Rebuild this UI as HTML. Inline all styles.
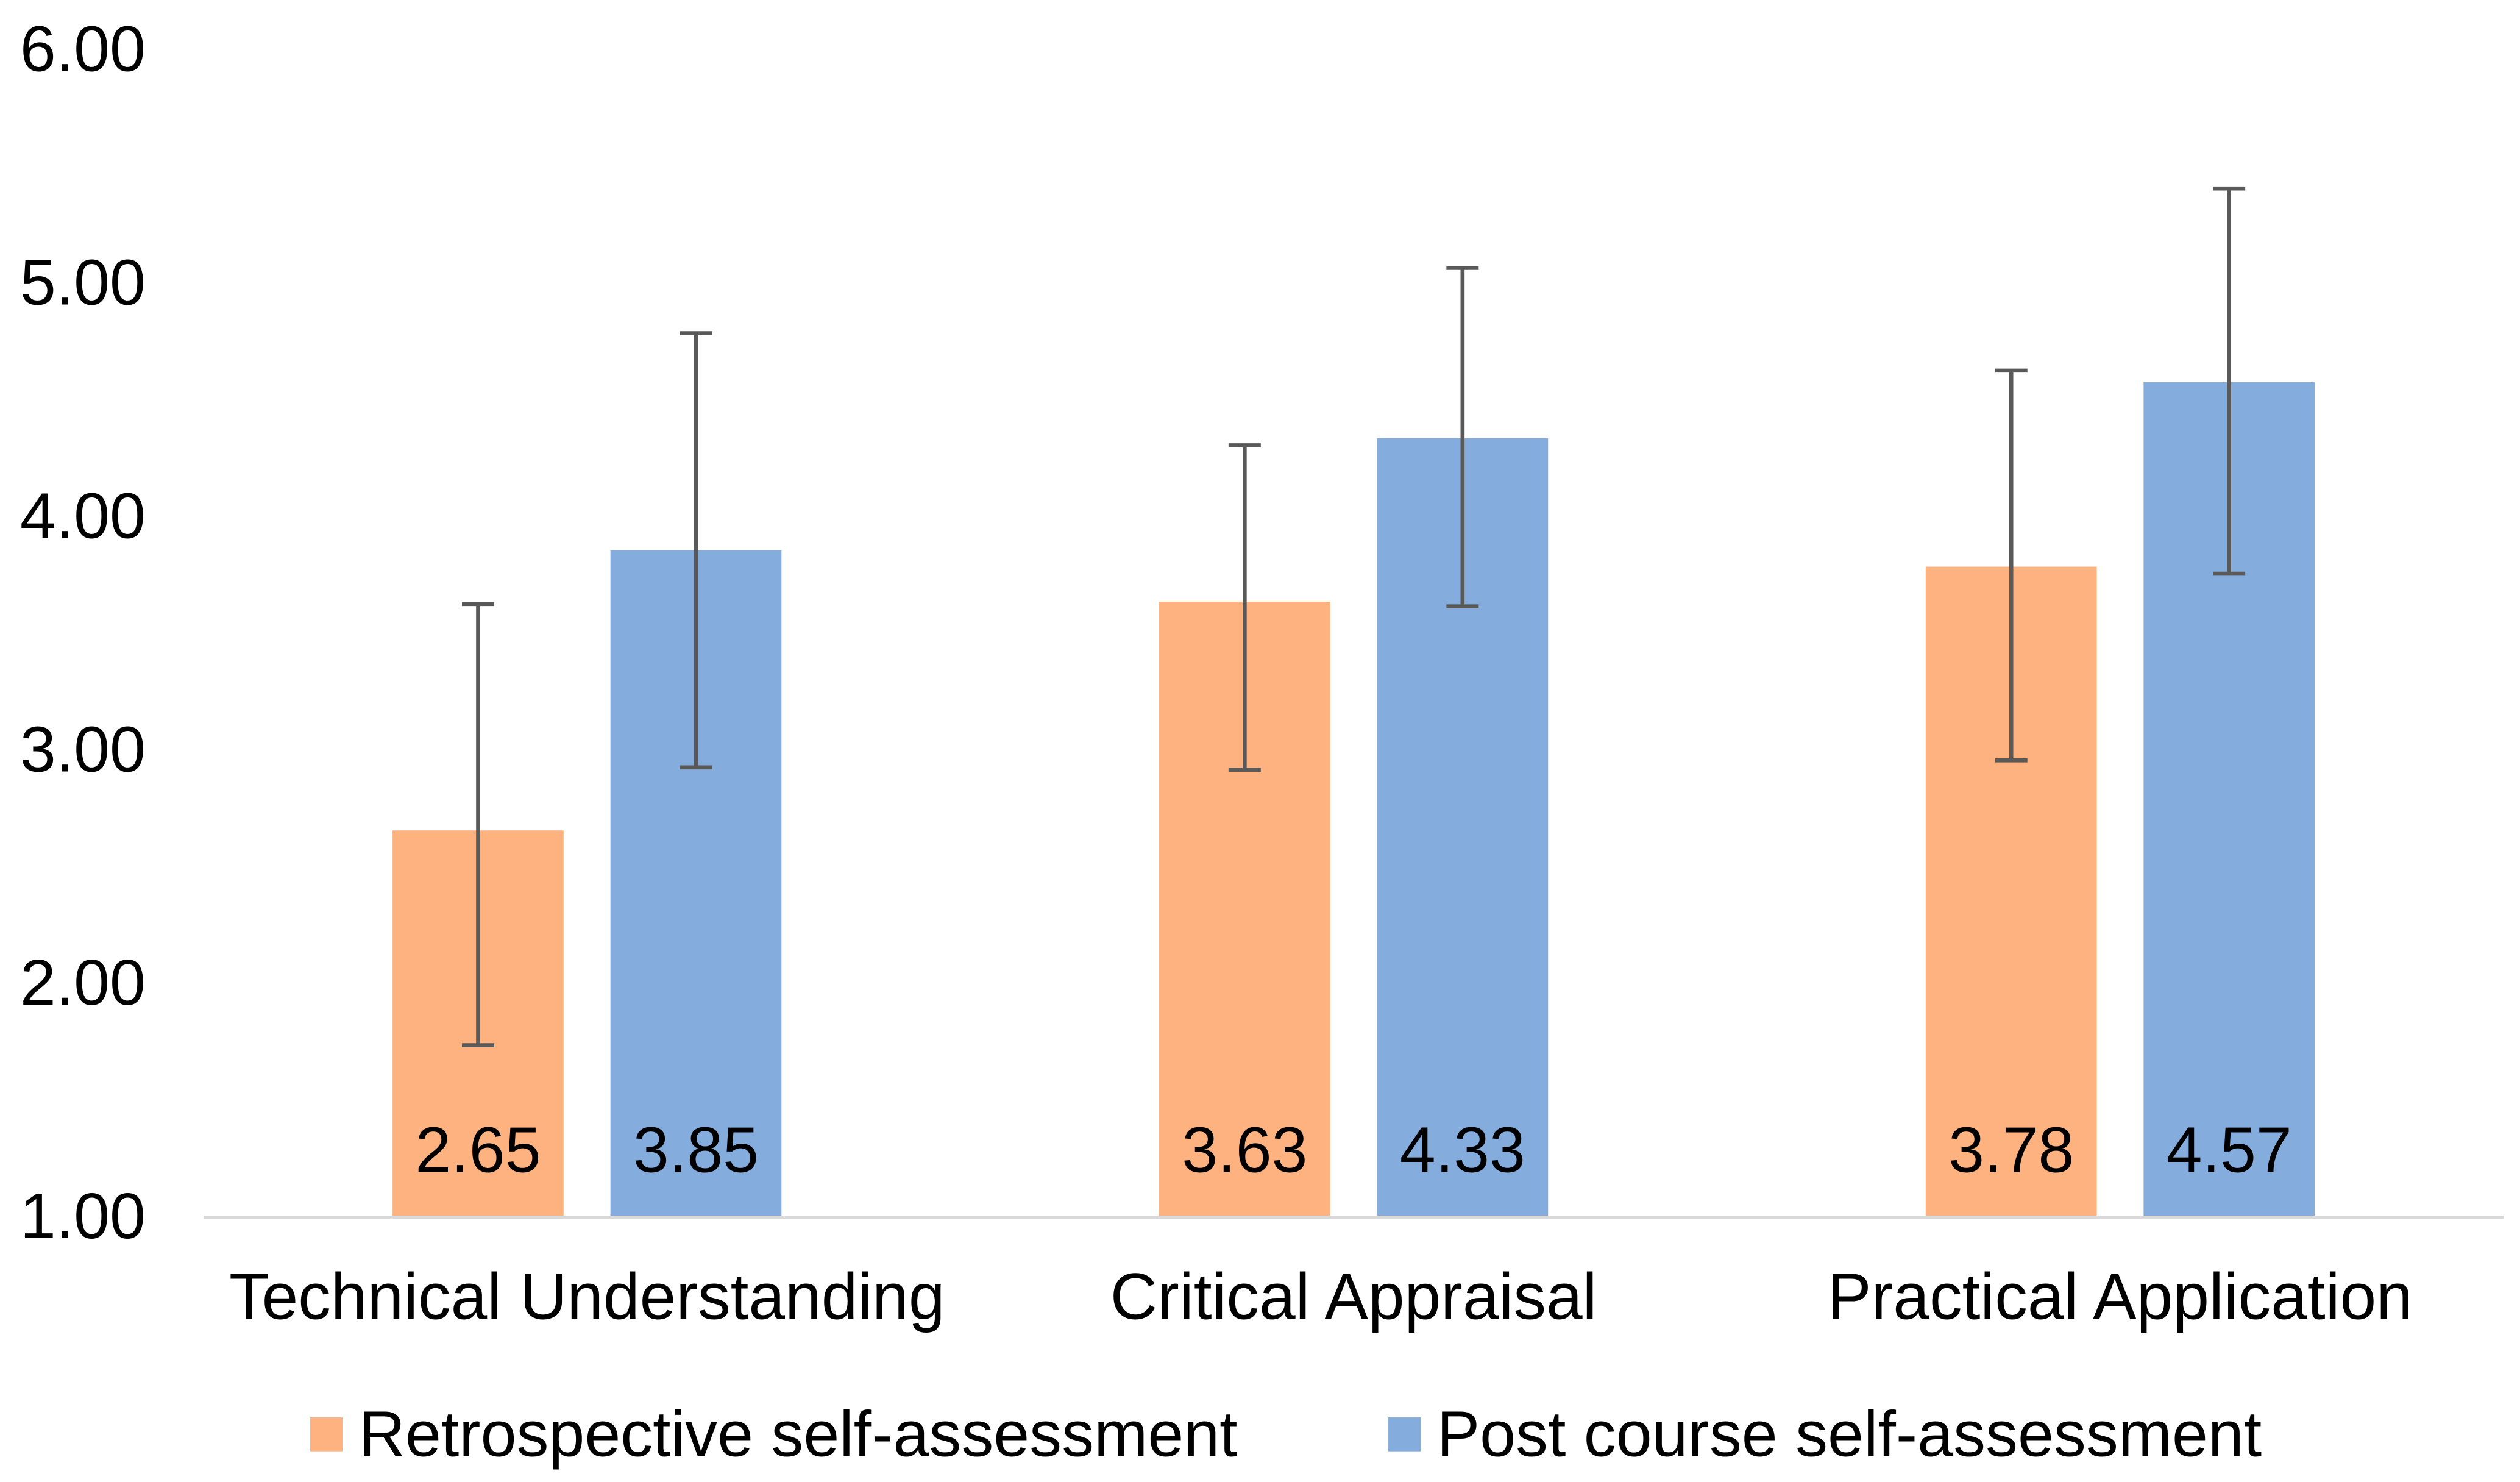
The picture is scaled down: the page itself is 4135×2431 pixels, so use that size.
<!DOCTYPE html>
<html><head><meta charset="utf-8"><style>
html,body{margin:0;padding:0;background:#fff;}
svg{display:block;font-family:"Liberation Sans",Arial,sans-serif;}
</style></head><body>
<svg id="chart" width="4135" height="2431" viewBox="0 0 1561 918" xmlns="http://www.w3.org/2000/svg"></svg>
<script>
const categories = ["Technical Understanding", "Critical Appraisal", "Practical Application"];
const retroValues = [2.65, 3.63, 3.78];
const postValues = [3.85, 4.33, 4.57];
const retroErrLow = [1.73, 2.91, 2.95];
const retroErrHigh = [3.62, 4.30, 4.62];
const postErrLow = [2.92, 3.61, 3.75];
const postErrHigh = [4.78, 5.06, 5.40];
const yTicks = [1, 2, 3, 4, 5, 6];
const seriesNames = ["Retrospective self-assessment", "Post course self-assessment"];

const NS = "http://www.w3.org/2000/svg";
const svg = document.getElementById("chart");
const plotL = 126, plotR = 1551, yMin = 1, yMax = 6, yBase = 753, yTop = 30;
function yScale(v){ return yBase - (v - yMin) / (yMax - yMin) * (yBase - yTop); }
const catW = 475;
function xCenter(i){ return 363.5 + catW * i; }
const barW = 106, offset = 67.5;
function mk(tag, attrs){ const e = document.createElementNS(NS, tag); for (const k in attrs) e.setAttribute(k, attrs[k]); svg.appendChild(e); return e; }

yTicks.forEach(t => {
  const e = mk("text", {x: 90, y: yScale(t) + 14, "text-anchor": "end", "font-size": 40, fill: "#000"});
  e.textContent = t.toFixed(2);
  
  
});

const series = [
  {vals: retroValues, lo: retroErrLow, hi: retroErrHigh, color: "#fdb27f", dx: -offset, name: "retro"},
  {vals: postValues, lo: postErrLow, hi: postErrHigh, color: "#84acdd", dx: offset, name: "post"}
];
series.forEach(s => {
  categories.forEach((c, i) => {
    const cx = xCenter(i) + s.dx;
    const r = mk("rect", {x: cx - barW/2, y: yScale(s.vals[i]), width: barW, height: yBase - yScale(s.vals[i]), fill: s.color});
    
    
  });
});
const axis = mk("line", {x1: plotL, x2: plotR, y1: yBase + 1, y2: yBase + 1, stroke: "#d9d9d9", "stroke-width": 2});



series.forEach(s => {
  categories.forEach((c, i) => {
    const cx = xCenter(i) + s.dx;
    const g = document.createElementNS(NS, "g"); svg.appendChild(g);
    
    
    const yl = yScale(s.lo[i]), yh = yScale(s.hi[i]);
    [[cx, yl, cx, yh], [cx-10, yl, cx+10, yl], [cx-10, yh, cx+10, yh]].forEach(p => {
      const l = document.createElementNS(NS, "line");
      l.setAttribute("x1", p[0]); l.setAttribute("y1", p[1]); l.setAttribute("x2", p[2]); l.setAttribute("y2", p[3]);
      l.setAttribute("stroke", "#595959"); l.setAttribute("stroke-width", 2.5);
      g.appendChild(l);
    });
    const t = mk("text", {x: cx, y: 726, "text-anchor": "middle", "font-size": 40, fill: "#000"});
    t.textContent = s.vals[i].toFixed(2);
    
    
  });
});

categories.forEach((c, i) => {
  const t = mk("text", {x: xCenter(i), y: 817, "text-anchor": "middle", "font-size": 40.5, fill: "#000"});
  t.textContent = c;
  
  
});

const legendX = [192, 860];
seriesNames.forEach((n, k) => {
  const sw = mk("rect", {x: legendX[k], y: 878, width: 20, height: 21, fill: series[k].color});
  
  
  const t = mk("text", {x: legendX[k] + 30, y: 902, "font-size": 40, fill: "#000"});
  t.textContent = n;
  
  
});
</script>
</body></html>
